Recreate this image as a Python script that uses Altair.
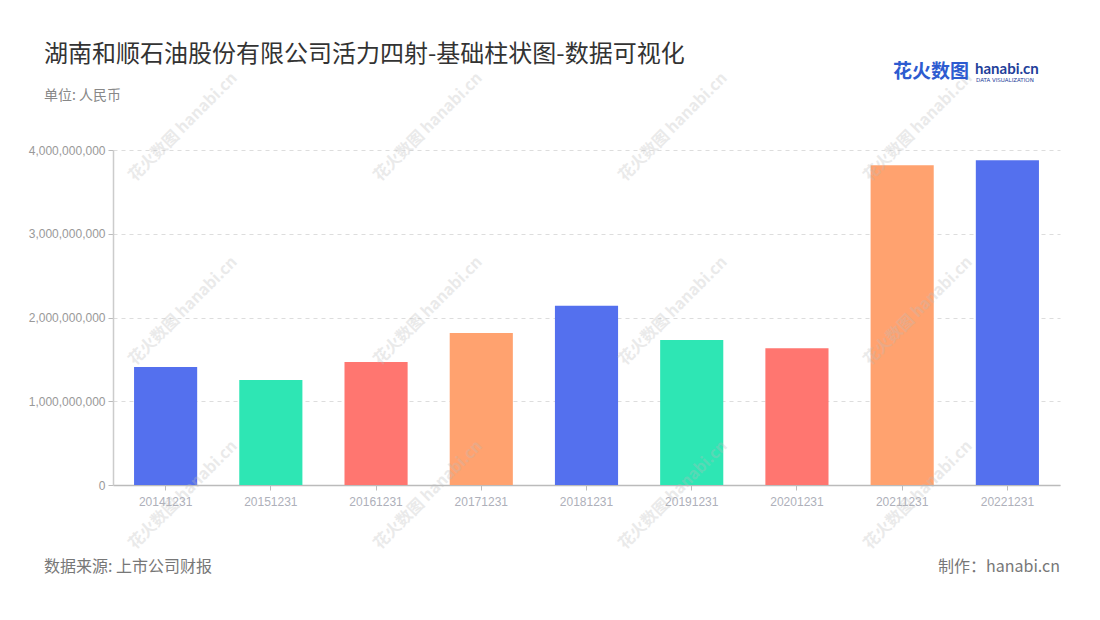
import altair as alt
import pandas as pd

periods = ["20141231", "20151231", "20161231", "20171231", "20181231",
           "20191231", "20201231", "20211231", "20221231"]
values = [1.409e9, 1.254e9, 1.469e9, 1.815e9, 2.140e9,
          1.731e9, 1.632e9, 3.817e9, 3.877e9]
palette = ["#5470EE", "#2EE6B4", "#FF7670", "#FFA26F"]
colors = [palette[i % 4] for i in range(len(periods))]

title_text = "湖南和顺石油股份有限公司活力四射-基础柱状图-数据可视化"
unit_text = "单位: 人民币"
source_text = "数据来源: 上市公司财报"
maker_text = "制作：hanabi.cn"
watermark_text = "花火数图 hanabi.cn"

df = pd.DataFrame({"period": periods, "value": values, "color": colors})

W, H = 947, 335
FONT = "Noto Sans CJK SC"

bars = alt.Chart(df).mark_bar().encode(
    x=alt.X("period:N", sort=periods, title=None,
            scale=alt.Scale(paddingInner=0.4, paddingOuter=0.2),
            axis=alt.Axis(labelAngle=0, labelColor="#AEB0BA", labelFontSize=12,
                          labelPadding=6, tickColor="#BBBBBB", tickSize=5,
                          domainColor="#BBBBBB", domainWidth=1.5, grid=False)),
    y=alt.Y("value:Q", title=None,
            scale=alt.Scale(domain=[0, 4e9], nice=False),
            axis=alt.Axis(values=[0, 1e9, 2e9, 3e9, 4e9], format=",d",
                          labelColor="#999999", labelFontSize=12, labelPadding=3,
                          tickColor="#BBBBBB", tickSize=5,
                          domainColor="#CCCCCC", domainWidth=1.5,
                          grid=True, gridColor="#DDDDDD", gridDash=[4, 4])),
    color=alt.Color("color:N", scale=None),
)

def label(text, x, y, size, color, align="left", weight="normal", font=FONT,
          angle=0, opacity=1.0):
    return alt.Chart(pd.DataFrame({"t": [text]})).mark_text(
        align=align, baseline="middle", fontSize=size, color=color,
        fontWeight=weight, font=font, angle=angle, opacity=opacity
    ).encode(text="t:N", x=alt.value(x), y=alt.value(y))

L, T = 113, 150

watermarks = []
for cx in [183, 428, 673, 918]:
    for cy in [127, 311, 495]:
        watermarks.append(label(watermark_text, cx - L, cy - T, 16, "#BBBBBB",
                                align="center", weight="bold", angle=315,
                                opacity=0.3))

layers = [
    bars,
    *watermarks,
    label(title_text, 44 - L, 55 - T, 24, "#333333"),
    label(unit_text, 44 - L, 96 - T, 14, "#888888"),
    label(source_text, 44 - L, 567 - T, 16, "#777777"),
    label(maker_text, 1060 - L, 567 - T, 16, "#777777", align="right"),
    label("花火数图", 893 - L, 72 - T, 19, "#2D5BD0", weight="bold"),
    label("hanabi.cn", 975 - L, 69 - T, 15, "#1F3F9A", weight="bold", font="Lato"),
    label("DATA VISUALIZATION", 976 - L, 80 - T, 5.5, "#1F3F9A", font="DejaVu Sans"),
]

chart = alt.layer(*layers).properties(
    width=W, height=H,
    autosize=alt.AutoSizeParams(type="none"),
    padding={"left": L, "top": T, "right": 1100 - L - W, "bottom": 620 - T - H},
    background="white",
).configure_view(stroke=None)

chart.save("out.html", embed_options={"renderer": "svg", "actions": False})
